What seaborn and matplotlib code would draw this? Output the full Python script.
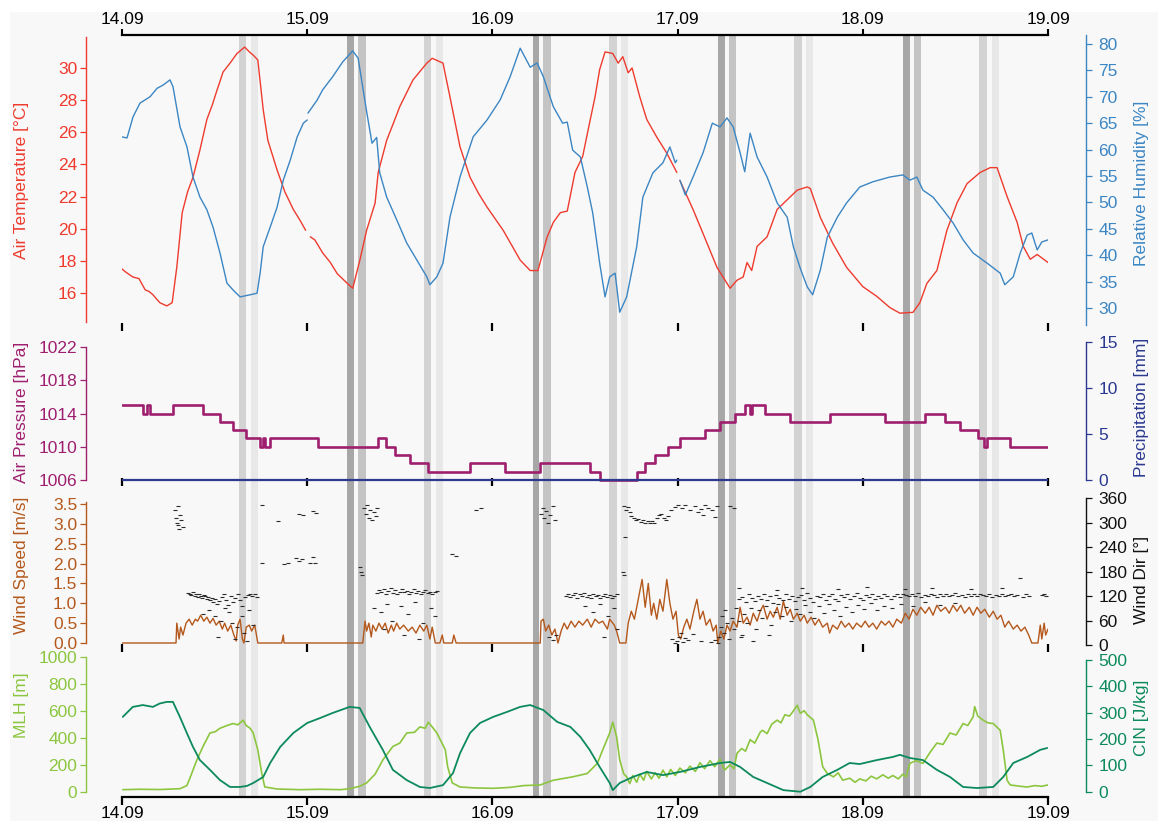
import numpy as np
import pandas as pd
import matplotlib
matplotlib.use("Agg")
import matplotlib.pyplot as plt
from matplotlib.patches import Rectangle
import seaborn as sns

# ---------------- data (time in hours since 14.09 00:00) ----------------
day_hours = [0, 24, 48, 72, 96, 120]
day_labels = ["14.09", "15.09", "16.09", "17.09", "18.09", "19.09"]

# shaded periods (start h, end h)
afternoon_a = [(15.1, 16.1), (39.1, 40.1), (63.1, 64.1), (87.1, 88.1), (111.1, 112.1)]
afternoon_b = [(16.7, 17.6), (40.7, 41.6), (64.7, 65.6), (88.7, 89.6), (112.7, 113.6)]
night_a = [(29.2, 30.1), (53.2, 54.1), (77.2, 78.1), (101.2, 102.1)]
night_b = [(30.6, 31.6), (54.6, 55.6), (78.6, 79.6), (102.6, 103.6)]

# air temperature [°C]  (nan = data gap)
temp_pts = [(0, 17.5), (0.5, 17.3), (1.4, 17.0), (2.2, 16.9), (3.0, 16.2), (3.5, 16.1), (4.0, 15.9),
            (4.9, 15.4), (5.8, 15.2), (6.5, 15.4), (7.1, 17.6), (7.8, 21.0), (8.5, 22.3), (9.2, 23.2),
            (10.1, 24.9), (11.0, 26.8), (11.7, 27.7), (12.3, 28.6), (13.1, 29.75), (14.0, 30.3),
            (14.9, 30.9), (15.9, 31.3), (16.5, 31.0), (17.0, 30.8), (17.6, 30.5), (18.3, 27.4),
            (18.9, 25.5), (20.1, 23.65), (21.1, 22.3), (22.2, 21.2), (23.1, 20.5), (23.8, 19.9),
            (24.1, np.nan), (24.4, 19.5), (25.0, 19.3), (26.0, 18.5), (27.0, 17.9), (27.9, 17.2),
            (29.2, 16.6), (29.9, 16.3), (30.8, 18.0), (31.7, 19.9), (32.8, 21.6), (33.2, 23.5),
            (34.3, 25.5), (35.2, 26.6), (36.0, 27.6), (37.7, 29.25), (39.5, 30.3), (40.2, 30.6),
            (41.6, 30.3), (42.5, 28.2), (43.8, 25.1), (45.1, 23.2), (46.2, 22.2), (47.3, 21.35),
            (49.4, 19.9), (51.6, 18.05), (52.9, 17.4), (53.9, 17.4), (55.1, 19.5), (55.9, 20.4),
            (56.8, 21.0), (57.7, 21.1), (58.7, 23.5), (59.7, 24.5), (60.6, 26.6), (61.3, 28.2),
            (61.9, 29.9), (62.6, 31.0), (63.6, 30.9), (64.3, 30.3), (64.9, 30.7), (65.6, 29.7),
            (66.1, 30.0), (67.1, 28.2), (68.0, 26.8), (69.3, 25.7), (70.6, 24.7), (71.9, 23.5),
            (72.1, np.nan), (72.3, 23.0), (74.0, 21.2), (75.3, 19.7), (77.1, 17.6), (78.8, 16.3),
            (79.7, 16.8), (80.5, 17.0), (81.0, 17.9), (81.6, 17.4), (82.3, 18.9), (83.6, 19.5),
            (84.9, 21.2), (86.2, 21.8), (87.5, 22.4), (88.8, 22.6), (89.2, 22.5), (90.5, 20.7),
            (92.1, 19.1), (93.9, 17.6), (96.0, 16.4), (97.8, 15.8), (99.5, 15.1), (100.8, 14.75),
            (102.5, 14.8), (103.4, 15.4), (104.3, 16.6), (105.6, 17.4), (106.9, 19.9), (108.2, 21.6),
            (109.5, 22.8), (111.2, 23.5), (112.5, 23.8), (113.4, 23.8), (114.7, 22.0), (116.0, 20.4),
            (116.8, 18.9), (117.7, 18.1), (118.6, 18.4), (120.0, 17.9)]

# relative humidity [%]
rh_pts = [(0, 62.4), (0.65, 62.2), (1.43, 66.2), (2.33, 68.8), (3.63, 70.0), (4.54, 71.6), (5.31, 72.2),
          (6.22, 73.2), (6.61, 71.9), (7.52, 64.3), (8.42, 60.5), (9.2, 54.8), (10.1, 51.0), (11.0, 48.6),
          (11.8, 45.3), (12.7, 40.4), (13.6, 34.7), (14.4, 33.4), (15.3, 32.1), (16.6, 32.5),
          (17.5, 32.8), (17.9, 36.6), (18.3, 41.6), (19.2, 45.3), (20.1, 49.1), (20.9, 54.2),
          (21.8, 58.0), (22.7, 62.4), (23.5, 65.0), (24.0, 65.6), (24.05, np.nan), (24.1, 66.9),
          (25.3, 69.4), (26.0, 71.3), (27.3, 73.8), (28.6, 76.6), (29.9, 78.7), (30.6, 77.3),
          (31.7, 67.2), (32.4, 61.2), (33.0, 62.3), (33.4, 55.6), (34.3, 51.0), (35.6, 46.7),
          (36.9, 42.3), (38.2, 39.1), (39.5, 35.9), (39.9, 34.4), (40.8, 35.9), (41.6, 38.5),
          (42.5, 47.2), (43.8, 54.8), (45.5, 62.4), (47.3, 65.6), (49.0, 69.4), (50.3, 73.8),
          (51.6, 79.2), (52.9, 75.6), (53.8, 76.4), (54.6, 73.8), (55.9, 68.1), (57.1, 65.0),
          (57.7, 65.2), (58.4, 59.9), (59.4, 58.6), (60.3, 52.9), (61.0, 48.0), (61.9, 38.5),
          (62.6, 32.1), (63.2, 35.9), (63.9, 36.6), (64.5, 29.2), (65.4, 32.1), (66.7, 41.6),
          (67.5, 51.0), (68.8, 55.6), (70.1, 57.5), (71.0, 60.5), (71.7, 57.5), (71.9, 58.0),
          (72.1, np.nan), (72.3, 54.2), (73.0, 51.4), (74.0, 54.8), (75.3, 59.4), (76.5, 65.0),
          (77.5, 64.3), (78.4, 66.0), (79.2, 64.3), (80.1, 59.4), (80.7, 55.8), (81.4, 63.1),
          (82.3, 58.6), (83.6, 54.8), (84.9, 49.9), (86.2, 47.2), (87.0, 41.6), (87.9, 37.5),
          (88.8, 34.0), (89.5, 32.5), (90.5, 37.2), (91.4, 43.4), (92.7, 47.2), (93.9, 49.9),
          (95.6, 52.9), (97.3, 53.9), (99.5, 54.8), (101.2, 55.2), (102.1, 54.2), (103.0, 54.8),
          (103.8, 52.3), (105.1, 51.0), (106.4, 48.6), (107.7, 46.1), (109.0, 42.9), (110.3, 40.4),
          (112.1, 38.5), (113.8, 36.6), (114.4, 34.4), (115.5, 35.9), (116.4, 40.4), (117.3, 43.8),
          (117.9, 44.2), (118.6, 41.0), (119.2, 42.5), (120.0, 42.9)]

# air pressure [hPa] (step values, each holds until next time)
pres_pts = [(0, 1015), (2.7, 1014), (3.2, 1015), (3.6, 1014), (6.6, 1015), (10.5, 1014), (12.7, 1013),
            (14.4, 1012), (16.1, 1011), (17.9, 1010), (18.3, 1011), (18.5, 1010), (19.2, 1011),
            (25.4, 1010), (33.2, 1011), (34.2, 1010), (35.4, 1009), (37.3, 1008), (39.7, 1007),
            (45.1, 1008), (49.6, 1007), (54.2, 1008), (60.6, 1007), (61.9, 1006), (66.7, 1007),
            (67.8, 1008), (69.1, 1009), (70.8, 1010), (72.3, 1011), (75.5, 1012), (77.5, 1013),
            (79.4, 1014), (80.7, 1015), (81.4, 1014), (81.7, 1015), (83.3, 1014), (86.6, 1013),
            (91.7, 1014), (98.9, 1013), (104.1, 1014), (106.7, 1013), (108.6, 1012), (110.9, 1011),
            (111.7, 1010), (112.1, 1011), (115.1, 1010), (120.0, 1010)]

# precipitation [mm]
precip_h = [0, 24, 48, 72, 96, 120]
precip_mm = [0, 0, 0, 0, 0, 0]

# wind speed [m/s]
ws_pts = [(0, 0), (7.0, 0), (7.1, 0.5), (7.4, 0.1), (7.6, 0.4), (7.9, 0.2), (8.3, 0.5), (8.7, 0.6),
          (9.1, 0.45), (9.5, 0.6), (9.8, 0.55), (10.2, 0.7), (10.6, 0.55), (11.0, 0.65), (11.4, 0.5),
          (11.8, 0.62), (12.2, 0.45), (12.6, 0.55), (13.0, 0.35), (13.3, 0.5), (13.7, 0.3),
          (14.1, 0.45), (14.5, 0.2), (14.8, 0.05), (15.0, 0.45), (15.3, 0.6), (15.6, 0.1),
          (15.8, 0.0), (16.1, 0.4), (16.5, 0.45), (16.8, 0.3), (17.2, 0.45), (17.5, 0.1),
          (17.6, 0.0), (20.7, 0.0), (20.9, 0.2), (21.0, 0.0), (31.2, 0.0), (31.5, 0.55),
          (31.7, 0.3), (32.0, 0.5), (32.3, 0.15), (32.5, 0.45), (32.9, 0.3), (33.3, 0.5),
          (33.7, 0.35), (34.1, 0.5), (34.5, 0.25), (34.9, 0.45), (35.2, 0.3), (35.6, 0.5),
          (36.0, 0.35), (36.5, 0.45), (37.1, 0.3), (37.6, 0.4), (38.1, 0.25), (38.6, 0.45),
          (39.1, 0.3), (39.5, 0.45), (39.9, 0.1), (40.2, 0.4), (40.6, 0.0), (41.2, 0.0),
          (41.5, 0.2), (41.7, 0.0), (42.8, 0.0), (43.0, 0.2), (43.3, 0.0), (54.2, 0.0),
          (54.3, 0.55), (54.6, 0.6), (54.9, 0.3), (55.3, 0.45), (55.7, 0.2), (56.1, 0.35),
          (56.5, 0.0), (56.9, 0.3), (57.3, 0.5), (57.7, 0.35), (58.2, 0.55), (58.7, 0.4),
          (59.2, 0.55), (59.7, 0.45), (60.3, 0.6), (60.8, 0.4), (61.3, 0.6), (61.8, 0.5),
          (62.3, 0.55), (62.9, 0.35), (63.2, 0.6), (63.8, 0.45), (64.1, 0.3), (64.5, 0.0),
          (65.3, 0.0), (65.6, 0.5), (66.0, 0.8), (66.4, 0.6), (66.9, 1.1), (67.4, 1.6),
          (67.8, 0.9), (68.2, 1.5), (68.6, 0.7), (68.9, 1.0), (69.3, 0.6), (69.7, 1.1),
          (70.1, 0.8), (70.6, 1.6), (71.0, 1.0), (71.4, 0.6), (71.8, 0.8), (72.1, 0.2),
          (72.4, 0.1), (72.8, 0.4), (73.2, 0.6), (73.6, 0.35), (74.1, 0.8), (74.5, 1.1),
          (74.9, 0.6), (75.3, 0.8), (75.7, 0.45), (76.2, 0.6), (76.6, 0.3), (77.0, 0.45),
          (77.2, 0.0), (77.6, 0.3), (78.0, 0.1), (78.4, 0.45), (78.8, 0.3), (79.2, 0.55),
          (79.7, 0.4), (80.1, 0.9), (80.5, 0.5), (81.0, 0.65), (81.4, 0.45), (81.8, 0.75),
          (82.3, 0.55), (82.7, 0.8), (83.1, 0.95), (83.6, 0.6), (84.0, 0.8), (84.4, 0.65),
          (84.9, 0.9), (85.3, 0.6), (85.7, 1.05), (86.2, 0.7), (86.6, 0.85), (87.0, 0.6),
          (87.5, 0.75), (87.9, 0.55), (88.4, 0.7), (88.8, 0.5), (89.3, 0.65), (89.8, 0.45),
          (90.3, 0.6), (90.8, 0.4), (91.4, 0.5), (91.7, 0.25), (92.1, 0.45), (92.7, 0.35),
          (93.2, 0.55), (93.7, 0.4), (94.2, 0.5), (94.7, 0.35), (95.2, 0.5), (95.8, 0.4),
          (96.3, 0.55), (96.8, 0.4), (97.3, 0.5), (97.8, 0.35), (98.4, 0.55), (98.9, 0.45),
          (99.4, 0.55), (99.9, 0.4), (100.4, 0.6), (101.0, 0.5), (101.5, 0.75), (102.0, 0.6),
          (102.5, 0.85), (103.0, 0.7), (103.5, 0.9), (104.1, 0.75), (104.6, 0.9), (105.1, 0.7),
          (105.6, 0.95), (106.1, 0.8), (106.7, 0.9), (107.2, 0.75), (107.7, 0.95), (108.2, 0.8),
          (108.7, 0.95), (109.2, 0.75), (109.8, 0.9), (110.3, 0.7), (110.8, 0.9), (111.3, 0.75),
          (111.8, 0.85), (112.4, 0.65), (112.9, 0.8), (113.4, 0.6), (113.9, 0.7), (114.4, 0.4),
          (114.9, 0.55), (115.5, 0.35), (116.0, 0.45), (116.5, 0.3), (117.0, 0.4), (117.5, 0.2),
          (117.9, 0.0), (118.7, 0.0), (119.0, 0.45), (119.2, 0.1), (119.5, 0.5), (119.7, 0.2),
          (120.0, 0.35)]

# wind direction [°]
wd_pts = [(6.9, 330), (7.0, 312), (7.1, 300), (7.2, 340), (7.3, 295), (7.4, 285), (7.5, 318), (7.7, 305), (7.9, 290),
          (8.6, 128), (8.8, 125), (9.0, 122), (9.2, 130), (9.4, 120), (9.6, 124), (9.8, 118), (10.0, 126),
          (10.2, 121), (10.4, 116), (10.6, 123), (10.8, 119), (11.0, 112), (11.2, 118), (11.4, 110),
          (11.6, 115), (11.8, 105), (12.0, 112), (12.3, 100), (12.6, 108), (12.9, 118), (13.2, 125),
          (13.5, 110), (13.8, 98), (14.1, 120), (14.4, 105), (14.7, 115), (15.0, 125), (15.3, 110),
          (15.6, 95), (16.0, 118), (16.3, 122), (16.6, 126), (16.9, 120), (17.2, 124), (17.5, 118),
          (10.5, 75), (11.3, 85), (12.1, 70), (12.8, 60), (13.3, 90), (13.9, 80), (14.3, 55), (14.9, 45),
          (15.5, 70), (15.8, 30), (16.4, 85), (17.0, 50), (12.5, 20), (14.6, 15), (16.2, 10),
          (18.1, 343), (20.2, 303), (22.9, 322), (23.4, 318), (25.2, 323), (24.8, 328),
          (18.1, 200), (21.0, 198), (21.5, 200), (22.6, 212), (22.9, 205), (23.3, 210), (24.3, 200),
          (25.0, 202), (24.8, 215),
          (30.9, 190), (31.0, 180), (31.1, 172),
          (31.3, 335), (31.6, 320), (31.8, 342), (32.0, 310), (32.2, 330), (32.4, 305), (32.6, 325),
          (32.9, 315), (33.1, 335),
          (32.6, 90), (33.0, 128), (33.3, 135), (33.6, 130), (33.9, 138), (34.2, 126), (34.5, 132),
          (34.8, 140), (35.1, 128), (35.4, 135), (35.7, 125), (36.0, 131), (36.3, 137), (36.6, 129),
          (36.9, 133), (37.2, 126), (37.5, 130), (37.8, 136), (38.1, 128), (38.4, 132), (38.7, 125),
          (39.0, 130), (39.3, 134), (39.6, 127), (39.9, 131), (40.2, 124), (40.5, 129), (40.8, 133),
          (33.5, 80), (34.3, 100), (35.0, 60), (36.2, 95), (37.0, 75), (38.0, 105), (39.0, 55),
          (40.0, 90), (40.6, 70), (34.0, 40), (36.5, 25), (38.5, 15),
          (42.7, 222), (43.3, 218), (45.9, 330), (46.5, 335),
          (54.3, 320), (54.5, 335), (54.7, 310), (54.9, 328), (55.2, 300), (55.5, 318), (55.8, 340),
          (56.1, 305), (55.3, 20), (55.8, 12), (56.2, 25),
          (57.5, 120), (57.8, 125), (58.1, 118), (58.4, 122), (58.7, 128), (59.0, 116), (59.3, 124),
          (59.6, 120), (59.9, 127), (60.2, 118), (60.5, 122), (60.8, 114), (61.1, 126), (61.4, 119),
          (61.7, 123), (62.0, 115), (62.3, 121), (62.6, 126), (62.9, 118), (63.2, 122), (63.5, 115),
          (63.8, 120), (64.1, 124),
          (60.0, 95), (61.0, 80), (62.0, 100), (63.0, 70), (63.7, 90), (64.2, 40), (62.5, 20),
          (64.9, 178), (65.0, 172), (65.2, 265), (65.1, 340), (65.3, 330),
          (65.6, 338), (65.8, 325), (66.0, 315), (66.3, 312), (66.6, 305), (66.9, 308), (67.2, 302),
          (67.5, 306), (67.8, 300), (68.1, 304), (68.4, 298), (68.7, 303), (69.0, 300), (69.3, 310),
          (69.6, 318), (69.9, 322), (70.2, 312), (70.5, 305), (70.8, 315), (71.2, 330), (71.6, 338),
          (72.0, 342), (72.6, 335), (73.0, 343), (73.6, 330), (74.2, 340), (74.6, 325), (75.0, 332),
          (75.3, 318), (75.6, 342), (76.0, 336), (76.4, 330), (76.8, 314), (77.1, 340), (78.8, 340),
          (79.3, 335),
          (71.3, 15), (71.6, 5), (71.9, 10), (72.2, 20), (72.4, 30), (72.7, 8), (73.0, 18), (73.3, 12),
          (74.0, 28), (75.0, 10), (76.3, 8), (76.8, 12), (77.2, 5), (77.4, 20), (77.6, 45), (77.8, 70),
          (78.0, 30), (78.2, 85), (78.4, 55), (78.7, 15), (79.0, 65), (79.3, 40), (79.6, 90), (80.0, 60),
          (80.3, 25),
          (80.0, 112), (80.4, 118), (80.8, 106), (81.2, 124), (81.6, 115), (82.0, 108), (82.4, 121),
          (82.8, 113), (83.2, 126), (83.6, 110), (84.0, 119), (84.4, 104), (84.8, 122), (85.2, 116),
          (85.6, 109), (86.0, 125), (86.4, 113), (86.8, 120), (87.2, 107), (87.6, 118), (88.0, 123),
          (88.4, 111), (88.8, 128), (89.2, 115), (89.6, 106), (90.0, 121), (90.4, 117), (90.8, 124),
          (91.2, 110), (91.6, 119), (92.0, 126), (92.4, 113), (92.8, 108), (93.2, 122), (93.6, 117),
          (94.0, 125), (94.4, 112), (94.8, 120), (95.2, 127), (95.6, 115), (96.0, 109), (96.4, 123),
          (96.8, 118), (97.2, 126), (97.6, 113), (98.0, 121), (98.4, 116), (98.8, 124), (99.2, 119),
          (99.6, 112),
          (100.0, 120), (100.4, 124), (100.8, 118), (101.2, 126), (101.6, 122), (102.0, 119),
          (102.4, 125), (102.8, 121), (103.2, 127), (103.6, 118), (104.0, 123), (104.4, 120),
          (104.8, 126), (105.2, 122), (105.6, 117), (106.0, 124), (106.4, 121), (106.8, 125),
          (107.2, 119), (107.6, 123), (108.0, 127), (108.4, 120), (108.8, 122), (109.2, 118),
          (109.6, 125), (110.0, 121), (110.4, 124), (110.8, 119), (111.2, 126), (111.6, 122),
          (112.0, 120), (112.4, 124), (112.8, 118), (113.2, 123), (113.6, 121), (114.0, 125),
          (114.4, 119), (114.8, 122), (115.2, 126), (115.6, 120), (116.0, 123), (116.8, 118),
          (117.2, 124), (117.6, 121),
          (80.6, 75), (81.0, 55), (81.5, 90), (82.1, 40), (82.6, 85), (83.0, 65), (83.5, 95), (84.1, 50),
          (84.6, 80), (85.0, 100), (85.5, 70), (86.1, 92), (86.7, 60), (87.3, 88), (87.9, 75), (88.5, 98),
          (89.1, 82), (89.7, 65), (90.3, 95), (91.0, 78), (91.6, 100), (92.3, 85), (93.0, 70), (93.8, 92),
          (94.6, 80), (95.4, 98), (96.2, 88), (97.0, 102), (97.9, 85), (98.8, 95), (99.8, 90),
          (101.0, 100), (102.5, 95), (104.0, 105), (106.0, 98), (108.0, 102), (80.2, 20), (81.8, 10),
          (83.8, 25), (79.9, 140), (84.9, 135), (88.1, 140), (92.8, 138), (96.6, 142), (101.5, 138),
          (105.0, 140), (110.0, 137), (114.0, 140), (116.4, 164), (119.2, 122), (119.5, 125),
          (119.8, 120)]

# mixing layer height [m]
mlh_pts = [(0.1, 15), (2.3, 18), (4.9, 16), (7.5, 22), (8.4, 45), (8.8, 100), (9.7, 235), (10.5, 335),
           (11.4, 435), (12.1, 445), (12.7, 470), (13.6, 490), (14.4, 505), (15.0, 495), (15.7, 530),
           (16.1, 490), (16.6, 470), (17.0, 435), (17.6, 310), (18.1, 140), (18.5, 35), (20.1, 20),
           (23.1, 15), (25.7, 18), (28.3, 15), (29.5, 22), (30.8, 40), (31.7, 65), (32.8, 130),
           (33.8, 235), (35.1, 335), (36.0, 360), (36.9, 435), (37.9, 440), (38.6, 480), (39.3, 470),
           (39.7, 515), (40.2, 480), (40.8, 435), (41.9, 310), (42.2, 185), (42.8, 65), (43.8, 35),
           (45.7, 28), (48.1, 25), (50.3, 32), (52.0, 45), (54.2, 50), (55.9, 85), (58.4, 110),
           (60.3, 135), (61.6, 210), (62.3, 310), (63.2, 435), (63.6, 515), (64.1, 405), (64.5, 235),
           (65.0, 135), (65.4, 110), (65.8, 60), (66.2, 120), (66.7, 70), (67.1, 130), (67.6, 85),
           (68.0, 150), (68.6, 95), (69.1, 140), (69.6, 100), (70.1, 160), (70.6, 110), (71.1, 165),
           (71.7, 120), (72.3, 175), (73.0, 140), (73.6, 190), (74.3, 150), (74.9, 215), (75.5, 170),
           (76.2, 230), (76.8, 185), (77.5, 240), (78.1, 160), (78.8, 200), (79.3, 170), (79.7, 285),
           (80.3, 320), (80.8, 300), (81.4, 385), (82.0, 360), (82.7, 440), (83.0, 455), (83.6, 430),
           (84.2, 500), (84.9, 530), (85.4, 510), (85.9, 570), (86.5, 560), (86.9, 590), (87.5, 640),
           (87.9, 580), (88.4, 600), (88.8, 570), (89.2, 550), (89.6, 530), (90.2, 385), (90.8, 185),
           (91.4, 135), (92.2, 110), (92.8, 140), (93.4, 85), (94.3, 100), (95.0, 70), (95.6, 95),
           (96.4, 80), (97.1, 115), (97.8, 95), (98.6, 125), (99.3, 100), (99.9, 120), (100.6, 95),
           (101.2, 130), (101.6, 110), (102.1, 210), (102.9, 230), (103.8, 210), (104.7, 290),
           (105.6, 360), (106.4, 350), (107.3, 435), (108.1, 420), (109.0, 505), (109.6, 490),
           (110.3, 555), (110.5, 630), (110.9, 560), (111.6, 530), (112.2, 510), (112.9, 505),
           (113.8, 455), (114.2, 310), (114.7, 85), (115.1, 50), (116.4, 40), (117.3, 35),
           (118.3, 45), (119.2, 40), (120.0, 50)]

# convective inhibition [J/kg]
cin_pts = [(0.1, 284), (1.4, 322), (2.7, 329), (4.0, 322), (4.9, 335), (5.8, 341), (6.6, 341),
           (7.5, 284), (8.4, 223), (9.2, 170), (10.1, 120), (11.4, 83), (12.7, 44), (14.0, 18),
           (15.3, 18), (16.2, 22), (17.0, 33), (18.3, 56), (19.2, 109), (20.5, 170), (22.2, 223),
           (24.0, 261), (25.7, 280), (27.3, 299), (29.5, 322), (30.8, 318), (32.1, 246), (33.8, 159),
           (35.1, 83), (36.9, 44), (38.6, 18), (39.9, 14), (41.6, 25), (42.9, 71), (43.8, 146),
           (45.1, 223), (46.4, 261), (48.1, 284), (49.9, 303), (51.6, 322), (52.9, 329), (54.6, 310),
           (56.4, 265), (58.1, 246), (59.4, 208), (60.6, 159), (61.9, 94), (63.2, 33), (63.6, 6),
           (64.5, 33), (66.2, 56), (68.0, 75), (70.1, 63), (72.3, 75), (74.9, 94), (77.5, 109),
           (78.8, 113), (80.1, 94), (81.8, 56), (83.6, 33), (85.7, 6), (87.9, 0), (89.2, 18),
           (90.8, 56), (92.7, 83), (94.3, 109), (95.6, 105), (97.8, 120), (99.9, 132), (100.8, 140),
           (102.1, 128), (103.8, 120), (105.6, 83), (107.3, 56), (109.0, 18), (110.8, 14),
           (112.9, 18), (114.2, 56), (115.5, 109), (117.3, 132), (119.0, 159), (119.9, 166)]

# ---------------- figure ----------------
sns.set_theme(style="white")
plt.rcParams['font.family'] = ['Liberation Sans', 'DejaVu Sans']

W, H = 1158, 821
fig = plt.figure(figsize=(W / 100, H / 100), dpi=100)
fig.patch.set_facecolor('white')
fig.add_artist(Rectangle((10 / W, 0), 1 - 10 / W, 1 - 12 / H, transform=fig.transFigure,
                         facecolor='#f8f8f8', edgecolor='none', zorder=-10))

X0, X1 = 122, 1048


def panel(top, bot):
    ax = fig.add_axes([X0 / W, 1 - bot / H, (X1 - X0) / W, (bot - top) / H])
    ax.set_facecolor('none')
    ax.set_xlim(0, 120)
    for s in ax.spines.values():
        s.set_visible(False)
    return ax


def twin(ax):
    t = ax.twinx()
    t.set_facecolor('none')
    for s in t.spines.values():
        s.set_visible(False)
    return t


ax1 = panel(35, 331)
ax2 = panel(331, 486)
ax3 = panel(486, 652)
ax4 = panel(652, 797)
ax1r, ax2r, ax3r, ax4r = twin(ax1), twin(ax2), twin(ax3), twin(ax4)

FS = 12.5
C_T, C_RH = '#ee3b2e', '#3c86c3'
C_P, C_PR = '#9e1f6e', '#2b3990'
C_WS, C_WD = '#b4581c', '#111111'
C_MLH, C_CIN = '#8cc63f', '#0c8a5c'


def style_y(ax, side, color, bounds, ticks, lim, label, lab_y, fmt=None):
    ax.set_ylim(*lim)
    sp = ax.spines[side]
    sp.set_visible(True)
    sp.set_color(color)
    sp.set_linewidth(1.0)
    sp.set_position(('outward', 26 if side == 'left' else 27))
    sp.set_bounds(*bounds)
    ax.set_yticks(ticks)
    if fmt:
        ax.set_yticklabels([fmt.format(t) for t in ticks])
    left = side == 'left'
    ax.tick_params(axis='y', colors=color, direction='out', length=4.3, width=0.9,
                   labelsize=FS, pad=2 if left else 5,
                   left=left, right=not left, labelleft=left, labelright=not left)
    ax.set_ylabel(label, color=color, fontsize=FS)
    ax.yaxis.set_label_position(side)
    ax.yaxis.set_label_coords(-0.1004 if left else 1.0929, lab_y)


# shading
for ax in (ax1, ax2, ax3, ax4):
    for spans, c in ((afternoon_a, '#d3d3d3'), (afternoon_b, '#e8e8e8'),
                     (night_a, '#a7a7a7'), (night_b, '#c4c4c4')):
        for s, e in spans:
            ax.axvspan(s, e, color=c, lw=0, zorder=0)


def seg_df(pts):
    df = pd.DataFrame(pts, columns=['h', 'v'])
    df['seg'] = df['v'].isna().cumsum()
    return df.dropna()


# panel 1: temperature & RH
sns.lineplot(data=seg_df(temp_pts), x='h', y='v', units='seg', estimator=None, sort=False,
             color=C_T, lw=1.0, ax=ax1, legend=False)
sns.lineplot(data=seg_df(rh_pts), x='h', y='v', units='seg', estimator=None, sort=False,
             color=C_RH, lw=1.0, ax=ax1r, legend=False)
style_y(ax1, 'left', C_T, (14.2, 31.9), [16, 18, 20, 22, 24, 26, 28, 30], (13.64, 32.05),
        'Air Temperature [°C]', 0.51)
style_y(ax1r, 'right', C_RH, (26.8, 81.7), [30, 35, 40, 45, 50, 55, 60, 65, 70, 75, 80], (25.64, 81.70),
        'Relative Humidity [%]', 0.50)

# panel 2: pressure & precipitation
pdf = pd.DataFrame(pres_pts, columns=['h', 'v'])
sns.lineplot(data=pdf, x='h', y='v', estimator=None, sort=False, color=C_P, lw=1.9,
             drawstyle='steps-post', ax=ax2, legend=False)
sns.lineplot(x=precip_h, y=precip_mm, estimator=None, color=C_PR, lw=1.6, ax=ax2r, legend=False)
style_y(ax2, 'left', C_P, (1006, 1022), [1006, 1010, 1014, 1018, 1022], (1005.28, 1023.93),
        'Air Pressure [hPa]', 0.477)
style_y(ax2r, 'right', C_PR, (0, 15), [0, 5, 10, 15], (-0.652, 16.196), 'Precipitation [mm]', 0.51)

# panel 3: wind speed & direction
wsdf = pd.DataFrame(ws_pts, columns=['h', 'v'])
sns.lineplot(data=wsdf, x='h', y='v', estimator=None, sort=False, color=C_WS, lw=1.0, ax=ax3,
             legend=False)
wddf = pd.DataFrame(wd_pts, columns=['h', 'v'])
sns.scatterplot(data=wddf, x='h', y='v', marker='_', s=6, color='#2a2a2a', linewidth=0.8, ax=ax3r,
                legend=False)
style_y(ax3, 'left', C_WS, (0, 3.55), [0, 0.5, 1.0, 1.5, 2.0, 2.5, 3.0, 3.5], (-0.2266, 3.953),
        'Wind Speed [m/s]', 0.524, fmt='{:.1f}')
style_y(ax3r, 'right', C_WD, (0, 360), [0, 60, 120, 180, 240, 300, 360], (-17.14, 389.4),
        'Wind Dir [°]', 0.434)

# panel 4: MLH & CIN
sns.lineplot(data=pd.DataFrame(mlh_pts, columns=['h', 'v']), x='h', y='v', estimator=None,
             sort=False, color=C_MLH, lw=1.2, ax=ax4, legend=False)
sns.lineplot(data=pd.DataFrame(cin_pts, columns=['h', 'v']), x='h', y='v', estimator=None,
             sort=False, color=C_CIN, lw=1.3, ax=ax4r, legend=False)
style_y(ax4, 'left', C_MLH, (0, 1000), [0, 200, 400, 600, 800, 1000], (-39.3, 1034.8),
        'MLH [m]', 0.634)
style_y(ax4r, 'right', C_CIN, (0, 500), [0, 100, 200, 300, 400, 500], (-20.1, 530.4),
        'CIN [J/kg]', 0.545)

# x axes
for ax in (ax1, ax2, ax3, ax4):
    ax.set_xlim(0, 120)
    ax.set_xticks(day_hours)
    ax.set_xlabel('')

ax1.spines['top'].set_visible(True)
ax1.spines['top'].set_color('black')
ax1.spines['top'].set_linewidth(1.6)
ax1.xaxis.set_ticks_position('top')
ax1.set_xticklabels(day_labels)
ax1.tick_params(axis='x', top=True, bottom=False, labeltop=True, labelbottom=False,
                direction='out', length=4, width=1.5, color='black', labelcolor='black',
                labelsize=FS, pad=2)

for ax in (ax2, ax3):
    ax.tick_params(axis='x', top=True, bottom=False, labeltop=False, labelbottom=False,
                   direction='out', length=5.5, width=1.6, color='black')

ax4.spines['bottom'].set_visible(True)
ax4.spines['bottom'].set_color('black')
ax4.spines['bottom'].set_linewidth(1.6)
ax4.set_xticklabels(day_labels)
ax4.tick_params(axis='x', top=True, bottom=True, labeltop=False, labelbottom=True,
                direction='out', length=5.5, width=1.6, color='black', labelcolor='black',
                labelsize=FS, pad=1)

fig.savefig('out.png', dpi=100, facecolor=fig.get_facecolor())
